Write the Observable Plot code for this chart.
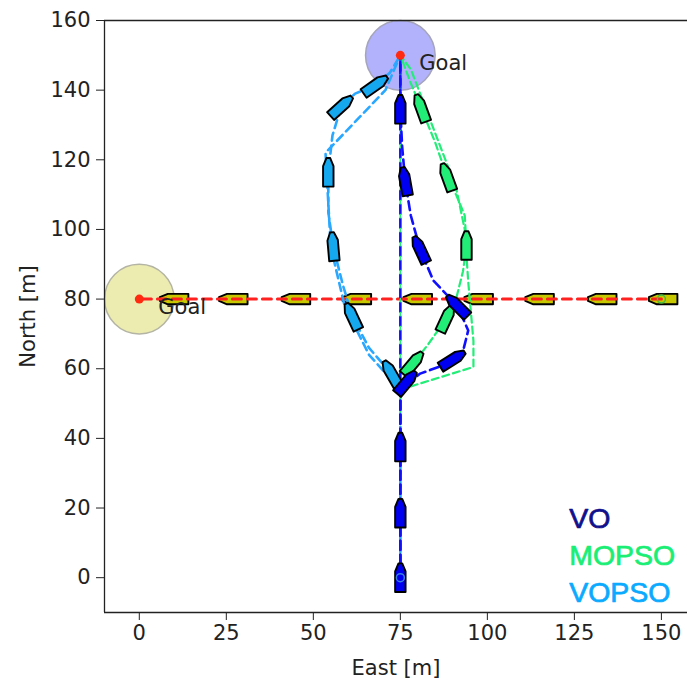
<!DOCTYPE html>
<html>
<head>
<meta charset="utf-8">
<script src="https://cdn.jsdelivr.net/npm/d3@7"></script>
<script src="https://cdn.jsdelivr.net/npm/@observablehq/plot@0.6"></script>
<style>
  html, body { margin: 0; padding: 0; background: #fff; }
  #chart { width: 687px; height: 682px; overflow: hidden; }
</style>
</head>
<body>
<div id="chart"></div>
<script>
// ---- ticks ----
const xTicks = [0, 25, 50, 75, 100, 125, 150];
const yTicks = [0, 20, 40, 60, 80, 100, 120, 140, 160];

// ---- goals ----
const goalX = [0, 75];
const goalY = [80, 150];
const goalLabel = ["Goal", "Goal"];
const goalRadius = 10;

// ---- crossing ship (east -> west) ----
const shipPathX = [150, 0];
const shipPathY = [80, 80];
const shipMarkX = [150.5, 133, 115, 97.5, 80, 62.5, 45, 27, 10];
const shipMarkY = [80, 80, 80, 80, 80, 80, 80, 80, 80];
const shipMarkHeading = [270, 270, 270, 270, 270, 270, 270, 270, 270];

// ---- VO ----
const voPathX = [75, 75, 80.7, 86, 90, 93, 94.5, 91.4, 84.5, 80.7, 78, 76.4, 75.5, 75, 75];
const voPathY = [0, 54, 58.6, 60.5, 62.6, 65, 71, 78, 85.3, 94.2, 104, 113.8, 124, 134.5, 150];
const voLineX = [75, 75];
const voLineY = [0, 150];
const voMarkX = [75, 75, 75, 76.7, 90, 91.4, 80.7, 76.4, 75];
const voMarkY = [0, 18.5, 37.5, 56, 62.6, 78, 94.2, 113.8, 134.5];
const voMarkHeading = [0, 0, 0, 40, 58, -45, -25, -10, 0];

// ---- MOPSO ----
const mopsoPathX = [75, 75, 78.6, 83, 88.2, 91, 93, 94, 93.5, 91, 88.5, 85, 81, 78, 75];
const mopsoPathY = [0, 54, 61.5, 67, 74.4, 80, 88, 95.4, 104, 110, 115, 125, 134.8, 142, 150];
const mopsoWayX = [75, 96, 96, 94.5, 93.5, 91, 78, 75];
const mopsoWayY = [54, 60.5, 68, 85, 100, 112, 146, 150];
const mopsoLineX = [75, 75];
const mopsoLineY = [54, 150];
const mopsoMarkX = [78.6, 88.2, 94, 88.5, 81];
const mopsoMarkY = [61.5, 74.4, 95.4, 115, 134.8];
const mopsoMarkHeading = [40, 25, 0, -20, -20];

// ---- VOPSO ----
const vopsoPathX = [75, 75, 72.4, 66, 61.2, 58.5, 55.7, 54.3, 54.3, 55.5, 58, 62, 67.8, 72, 75];
const vopsoPathY = [0, 54, 58.6, 66, 75, 84, 95.1, 105, 116.4, 127, 135.3, 139, 141.4, 145, 150];
const vopsoWayX = [75, 66, 59, 55, 53.5, 70.7, 75];
const vopsoWayY = [54, 64, 78, 95, 122, 140, 150];
const vopsoMarkX = [72.4, 61.2, 55.7, 54.3, 58, 67.8];
const vopsoMarkY = [58.6, 75, 95.1, 116.4, 135.3, 141.4];
const vopsoMarkHeading = [-30, -25, -5, 0, 48, 55];

// ---- legend ----
const legendNames = ["VO", "MOPSO", "VOPSO"];
const legendX = [123.5, 123.5, 123.5];
const legendY = [17, 6.4, -4.5];
const legendColors = ["#10108c", "#1aee75", "#0aaaff"];

// ---- layout ----
const W = 687, H = 682, mL = 104, mR = 0, mT = 20, mB = 70;
const xDomain = [-10, 157.5];
const yDomain = [-10, 160];
const pxPerUnit = (W - mL - mR) / (xDomain[1] - xDomain[0]);

const pts = (xs, ys) => xs.map((x, i) => ({x, y: ys[i]}));
// boat outline in data units, derived from centre + heading
const BOAT_L = 8.2, BOAT_W = 3.0, BOAT_B = 2.3;
function boats(xs, ys, hs, tag) {
  const rows = [];
  xs.forEach((cx, i) => {
    const h = hs[i] * Math.PI / 180;
    const fx = Math.sin(h), fy = Math.cos(h);
    const rx = Math.cos(h), ry = -Math.sin(h);
    const local = [
      [-BOAT_L / 2, -BOAT_W / 2], [BOAT_L / 2 - BOAT_B, -BOAT_W / 2], [BOAT_L / 2, -BOAT_W * 0.18],
      [BOAT_L / 2, BOAT_W * 0.18], [BOAT_L / 2 - BOAT_B, BOAT_W / 2], [-BOAT_L / 2, BOAT_W / 2]
    ];
    local.forEach(([f, r]) => rows.push({id: tag + i, x: cx + f * fx + r * rx, y: ys[i] + f * fy + r * ry}));
  });
  return rows;
}

const goals = goalX.map((x, i) => ({x, y: goalY[i], label: goalLabel[i]}));
const legend = legendNames.map((name, i) => ({name, x: legendX[i], y: legendY[i], color: legendColors[i]}));

const boatStyle = {x: "x", y: "y", z: "id", stroke: "#000", strokeWidth: 1.9, strokeLinejoin: "round", curve: "linear-closed"};

const chart = Plot.plot({
  width: W, height: H,
  marginLeft: mL, marginRight: mR, marginTop: mT, marginBottom: mB,
  style: {fontFamily: "DejaVu Sans", fontSize: "21px", color: "#222", background: "#fff", overflow: "visible"},
  x: {domain: xDomain, ticks: xTicks, tickSize: 8, tickPadding: 5, label: "East [m]", labelAnchor: "center", labelArrow: "none", labelOffset: 62},
  y: {domain: yDomain, ticks: yTicks, tickSize: 8, tickPadding: 6, label: "North [m]", labelAnchor: "center", labelArrow: "none", labelOffset: 84},
  marks: [
    // goal regions
    Plot.dot(goals.slice(0, 1), {x: "x", y: "y", r: goalRadius * pxPerUnit, fill: "#ececb0", stroke: "#b4b4a4", strokeWidth: 1.5}),
    Plot.dot(goals.slice(1), {x: "x", y: "y", r: goalRadius * pxPerUnit, fill: "#b2b2fc", stroke: "#a4a4bc", strokeWidth: 1.5}),
    // frame (left, top, bottom)
    Plot.ruleX([xDomain[0]], {stroke: "#222", strokeWidth: 1.3}),
    Plot.ruleY([yDomain[1], yDomain[0]], {stroke: "#222", strokeWidth: 1.3}),
    // crossing ship
    Plot.line(boats(shipMarkX, shipMarkY, shipMarkHeading, "s"), {...boatStyle, fill: "#c8c800"}),
    Plot.line(pts(shipPathX, shipPathY), {x: "x", y: "y", stroke: "#ff2020", strokeWidth: 3, strokeDasharray: "9,6"}),
    // planned (waypoint) lines
    Plot.line(pts(mopsoWayX, mopsoWayY), {x: "x", y: "y", stroke: "#22ee77", strokeWidth: 2.2, strokeDasharray: "7,4"}),
    Plot.line(pts(vopsoWayX, vopsoWayY), {x: "x", y: "y", stroke: "#2aa8ff", strokeWidth: 2.6, strokeDasharray: "8,5"}),
    // travelled paths
    Plot.line(pts(mopsoPathX, mopsoPathY), {x: "x", y: "y", stroke: "#22ee77", strokeWidth: 2.2, strokeDasharray: "7,4"}),
    Plot.line(pts(vopsoPathX, vopsoPathY), {x: "x", y: "y", stroke: "#2aa8ff", strokeWidth: 2.6, strokeDasharray: "8,5"}),
    Plot.line(pts(voLineX, voLineY), {x: "x", y: "y", stroke: "#1010ff", strokeWidth: 2.6, strokeDasharray: "9,5"}),
    Plot.line(pts(mopsoLineX, mopsoLineY), {x: "x", y: "y", stroke: "#22ee77", strokeWidth: 1.6, strokeDasharray: "3,11", strokeDashoffset: 10}),
    Plot.line(pts(voPathX, voPathY), {x: "x", y: "y", stroke: "#1010ff", strokeWidth: 2.6, strokeDasharray: "9,5"}),
    // boats
    Plot.line(boats(mopsoMarkX, mopsoMarkY, mopsoMarkHeading, "m"), {...boatStyle, fill: "#22ee77"}),
    Plot.line(boats(vopsoMarkX, vopsoMarkY, vopsoMarkHeading, "p"), {...boatStyle, fill: "#15a8ee"}),
    Plot.line(boats(voMarkX, voMarkY, voMarkHeading, "v"), {...boatStyle, fill: "#0000f0"}),
    // start markers
    Plot.dot(pts([shipPathX[0]], [shipPathY[0]]), {x: "x", y: "y", r: 4, stroke: "#44bb44", strokeWidth: 1.5}),
    Plot.dot(pts([voPathX[0]], [voPathY[0]]), {x: "x", y: "y", r: 4, stroke: "#3a80e0", strokeWidth: 1.5}),
    // goal centres and labels
    Plot.dot(goals, {x: "x", y: "y", r: 4.5, fill: "#ff2a10"}),
    Plot.text(goals, {x: "x", y: "y", text: "label", dx: 19, dy: 8, textAnchor: "start", fontSize: 21, fill: "#222"}),
    // legend
    Plot.text(legend, {x: "x", y: "y", text: "name", fill: "color", stroke: "color", strokeWidth: 0.7, textAnchor: "start", lineAnchor: "middle", fontSize: 28.5, fontFamily: "Liberation Sans"})
  ]
});
document.getElementById("chart").appendChild(chart);
</script>
</body>
</html>
